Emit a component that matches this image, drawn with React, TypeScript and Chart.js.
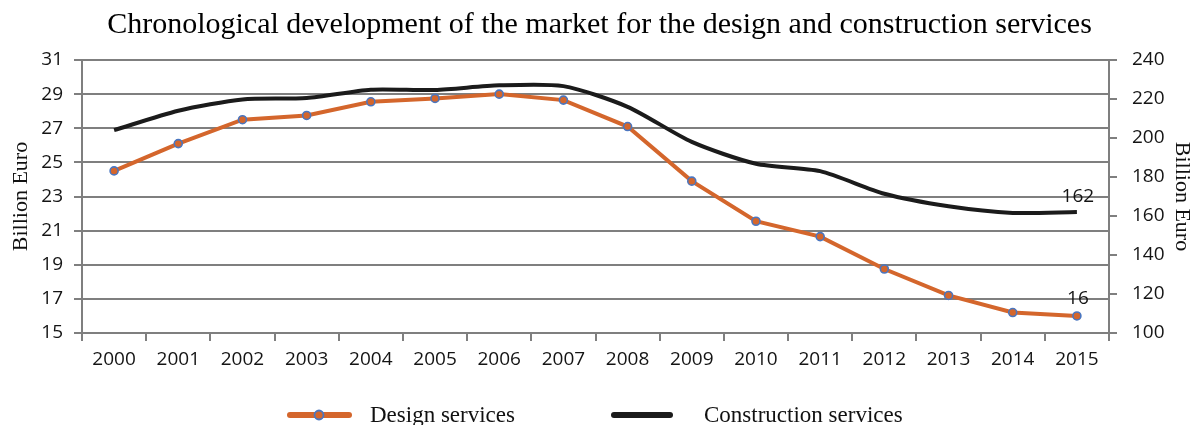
import React, { useEffect, useRef } from "react";
import { Chart, registerables } from "chart.js";

Chart.register(...registerables);

const years = ["2000", "2001", "2002", "2003", "2004", "2005", "2006", "2007", "2008", "2009", "2010", "2011", "2012", "2013", "2014", "2015"];
const designServices = [24.5, 26.1, 27.5, 27.75, 28.55, 28.75, 29.0, 28.65, 27.1, 23.9, 21.55, 20.65, 18.75, 17.2, 16.2, 16];
const constructionServices = [204, 214, 219.8, 220.5, 224.8, 224.6, 227, 226.6, 216, 198, 186.8, 183, 171.4, 165, 161.6, 162];

const leftTicks = [15, 17, 19, 21, 23, 25, 27, 29, 31];
const rightTicks = [100, 120, 140, 160, 180, 200, 220, 240];

const chartTitle = "Chronological development of the market for the design and construction services";
const axisTitle = "Billion Euro";
const legendLabels = ["Design services", "Construction services"];

const ORANGE = "#D4662C";
const BLUE = "#4A76C0";
const BLACK = "#1b1b1b";
const GRID = "#7f7f7f";
const TEXT = "#141414";
const SERIF = "'Liberation Serif', 'Times New Roman', serif";
const SANS = "'Open Sans', 'Noto Sans', sans-serif";

// Value labels over the last point of each series, plus the bottom legend.
const decorPlugin = {
  id: "decor",
  afterDatasetsDraw(chart: any) {
    const ctx = chart.ctx;
    ctx.save();
    ctx.font = `19px ${SANS}`;
    ctx.fillStyle = TEXT;
    ctx.textAlign = "center";
    ctx.textBaseline = "middle";
    chart.data.datasets.forEach((ds: any, i: number) => {
      const meta = chart.getDatasetMeta(i);
      const last = meta.data[meta.data.length - 1];
      const v = ds.data[ds.data.length - 1];
      ctx.fillText(String(v), last.x + 1, last.y - (i === 0 ? 17 : 16));
    });
    ctx.restore();
  },
  afterDraw(chart: any) {
    const ctx = chart.ctx;
    ctx.save();
    const y = 415;
    // design services sample: thick orange line with a marker
    ctx.lineCap = "round";
    ctx.strokeStyle = ORANGE;
    ctx.lineWidth = 6;
    ctx.beginPath();
    ctx.moveTo(290, y);
    ctx.lineTo(349, y);
    ctx.stroke();
    ctx.beginPath();
    ctx.arc(319, y, 4.5, 0, Math.PI * 2);
    ctx.fillStyle = ORANGE;
    ctx.fill();
    ctx.lineWidth = 1.8;
    ctx.strokeStyle = BLUE;
    ctx.stroke();
    // construction services sample
    ctx.strokeStyle = BLACK;
    ctx.lineWidth = 6;
    ctx.beginPath();
    ctx.moveTo(614, y);
    ctx.lineTo(670, y);
    ctx.stroke();
    ctx.font = `23px ${SERIF}`;
    ctx.fillStyle = "#111";
    ctx.textAlign = "left";
    ctx.textBaseline = "alphabetic";
    ctx.fillText(legendLabels[0], 370, 422);
    ctx.fillText(legendLabels[1], 704, 422);
    ctx.restore();
  },
};

export default function App() {
  const canvasRef = useRef<HTMLCanvasElement | null>(null);

  useEffect(() => {
    if (!canvasRef.current) return;
    const chart = new Chart(canvasRef.current, {
      type: "line",
      data: {
        labels: years,
        datasets: [
          {
            label: legendLabels[0],
            data: designServices,
            yAxisID: "y",
            borderColor: ORANGE,
            backgroundColor: ORANGE,
            borderWidth: 4,
            tension: 0,
            pointRadius: 4,
            pointBorderWidth: 1.6,
            pointBorderColor: BLUE,
            pointBackgroundColor: ORANGE,
            order: 0,
          },
          {
            label: legendLabels[1],
            data: constructionServices,
            yAxisID: "y1",
            borderColor: BLACK,
            backgroundColor: BLACK,
            borderWidth: 4,
            tension: 0.25,
            pointRadius: 0,
            order: 1,
          },
        ],
      },
      options: {
        responsive: false,
        animation: false,
        layout: { padding: { left: 0, right: 0, top: 0, bottom: 42 } },
        plugins: {
          legend: { display: false },
          tooltip: { enabled: false },
          title: {
            display: true,
            text: chartTitle,
            color: "#000",
            font: { family: SERIF, size: 30, weight: "normal" },
            padding: { top: 7, bottom: 17 },
          },
        },
        scales: {
          x: {
            offset: true,
            grid: {
              offset: true,
              drawOnChartArea: false,
              drawTicks: true,
              tickLength: 8,
              color: GRID,
              lineWidth: 2,
            },
            border: { display: true, color: GRID, width: 2 },
            ticks: { color: TEXT, font: { family: SANS, size: 19 }, padding: 7, maxRotation: 0, autoSkip: false },
            afterFit: (s: any) => {
              s.height = 50;
            },
          },
          y: {
            position: "left",
            min: leftTicks[0],
            max: leftTicks[leftTicks.length - 1],
            afterBuildTicks: (s: any) => {
              s.ticks = leftTicks.map((v) => ({ value: v }));
            },
            grid: { color: GRID, lineWidth: 2, tickLength: 8 },
            border: { display: true, color: GRID, width: 2 },
            ticks: { color: TEXT, font: { family: SANS, size: 19 }, padding: 11 },
            title: {
              display: true,
              text: axisTitle,
              color: "#111",
              font: { family: SERIF, size: 22 },
              padding: { top: 8, bottom: 0 },
            },
            afterFit: (s: any) => {
              s.width = 82;
            },
          },
          y1: {
            position: "right",
            min: rightTicks[0],
            max: rightTicks[rightTicks.length - 1],
            afterBuildTicks: (s: any) => {
              s.ticks = rightTicks.map((v) => ({ value: v }));
            },
            grid: { drawOnChartArea: false, color: GRID, lineWidth: 2, tickLength: 8 },
            border: { display: true, color: GRID, width: 2 },
            ticks: { color: TEXT, font: { family: SANS, size: 19 }, padding: 15 },
            title: {
              display: true,
              text: axisTitle,
              color: "#111",
              font: { family: SERIF, size: 22 },
              padding: { top: 4, bottom: 0 },
            },
            afterFit: (s: any) => {
              s.width = 90;
            },
          },
        },
      } as any,
      plugins: [decorPlugin],
    });
    return () => chart.destroy();
  }, []);

  return (
    <div style={{ position: "absolute", left: 0, top: 0, width: 1199, height: 425, background: "#fff" }}>
      <canvas ref={canvasRef} width={1199} height={425} />
    </div>
  );
}
